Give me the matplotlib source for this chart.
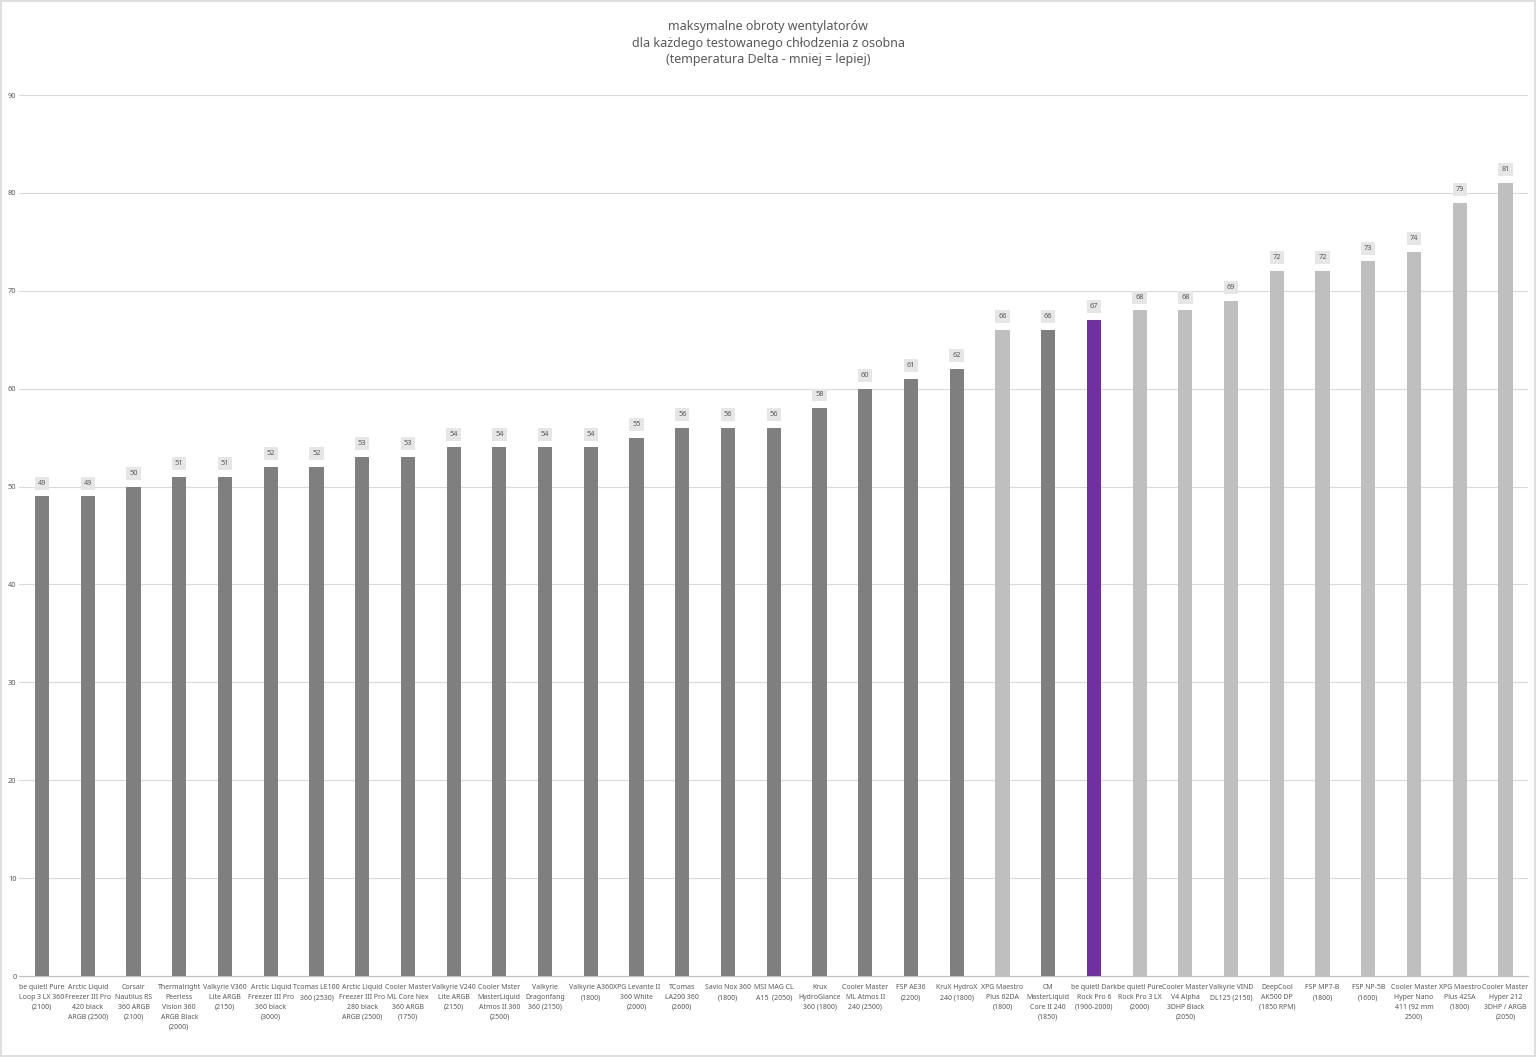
import matplotlib.pyplot as plt
from matplotlib.patches import Rectangle

plt.rcParams['font.family'] = ['Noto Sans', 'DejaVu Sans']

# ---- data ----
labels = [
    "be quiet! Pure\nLoop 3 LX 360\n(2100)",
    "Arctic Liquid\nFreezer III Pro\n420 black\nARGB (2500)",
    "Corsair\nNautilus RS\n360 ARGB\n(2100)",
    "Thermalright\nPeerless\nVision 360\nARGB Black\n(2000)",
    "Valkyrie V360\nLite ARGB\n(2150)",
    "Arctic Liquid\nFreezer III Pro\n360 black\n(3000)",
    "Tcomas LE100\n360 (2530)",
    "Arctic Liquid\nFreezer III Pro\n280 black\nARGB (2500)",
    "Cooler Master\nML Core Nex\n360 ARGB\n(1750)",
    "Valkyrie V240\nLite ARGB\n(2150)",
    "Cooler Mster\nMasterLiquid\nAtmos II 360\n(2500)",
    "Valkyrie\nDragonfang\n360 (2150)",
    "Valkyrie A360\n(1800)",
    "XPG Levante II\n360 White\n(2000)",
    "TComas\nLA200 360\n(2600)",
    "Savio Nox 360\n(1800)",
    "MSI MAG CL\nA15  (2050)",
    "Krux\nHydroGlance\n360 (1800)",
    "Cooler Master\nML Atmos II\n240 (2500)",
    "FSP AE36\n(2200)",
    "KruX HydroX\n240 (1800)",
    "XPG Maestro\nPlus 62DA\n(1800)",
    "CM\nMasterLiquid\nCore II 240\n(1850)",
    "be quiet! Dark\nRock Pro 6\n(1900-2000)",
    "be quiet! Pure\nRock Pro 3 LX\n(2000)",
    "Cooler Master\nV4 Alpha\n3DHP Black\n(2050)",
    "Valkyrie VIND\nDL125 (2150)",
    "DeepCool\nAK500 DP\n(1850 RPM)",
    "FSP MP7-B\n(1800)",
    "FSP NP-5B\n(1600)",
    "Cooler Master\nHyper Nano\n411 (92 mm\n2500)",
    "XPG Maestro\nPlus 42SA\n(1800)",
    "Cooler Master\nHyper 212\n3DHP / ARGB\n(2050)",
]
values = [49, 49, 50, 51, 51, 52, 52, 53, 53, 54, 54, 54, 54, 55, 56, 56, 56,
          58, 60, 61, 62, 66, 66, 67, 68, 68, 69, 72, 72, 73, 74, 79, 81]
# group: d = dark grey (AIO), l = light grey (air), h = highlighted
groups = ['d'] * 21 + ['l', 'd', 'h'] + ['l'] * 9

title = ("maksymalne obroty wentylatorów\n"
         "dla każdego testowanego chłodzenia z osobna\n"
         "(temperatura Delta - mniej = lepiej)")

COLORS = {'d': '#7f7f7f', 'l': '#bfbfbf', 'h': '#7030a0'}
TEXT_COLOR = '#595959'

fig = plt.figure(figsize=(15.36, 10.57), dpi=100)
ax = fig.add_axes([0.0125, 0.0766, 0.9825, 0.8335])

x = range(len(values))
ax.bar(x, values, width=0.31, color=[COLORS[g] for g in groups], zorder=3)

for xi, v in zip(x, values):
    ax.text(xi, v + 1.0, str(v), ha='center', va='bottom', fontsize=5.3,
            color=TEXT_COLOR, zorder=4,
            bbox=dict(boxstyle='square,pad=0.4', fc='#e7e6e6', ec='none'))

ax.set_xlim(-0.5, len(values) - 0.5)
ax.set_ylim(0, 90)
ax.set_yticks(range(0, 91, 10))
ax.set_xticks(list(x))
ax.set_xticklabels(labels, fontsize=5.0, color=TEXT_COLOR, linespacing=1.55)
ax.tick_params(axis='x', length=0, pad=6)
ax.tick_params(axis='y', length=0, labelsize=5.3, labelcolor=TEXT_COLOR, pad=2)
ax.grid(axis='y', color='#d9d9d9', linewidth=0.8, zorder=0)
for side in ['top', 'right', 'left']:
    ax.spines[side].set_visible(False)
ax.spines['bottom'].set_color('#bfbfbf')

fig.text(0.5, 0.981, title, ha='center', va='top', fontsize=9,
         color=TEXT_COLOR, linespacing=1.35)

# chart border
fig.patches.append(Rectangle((0.0005, 0.001), 0.999, 0.998, transform=fig.transFigure,
                             fill=False, ec='#d9d9d9', lw=1.2))

fig.savefig('out.png', dpi=100)
